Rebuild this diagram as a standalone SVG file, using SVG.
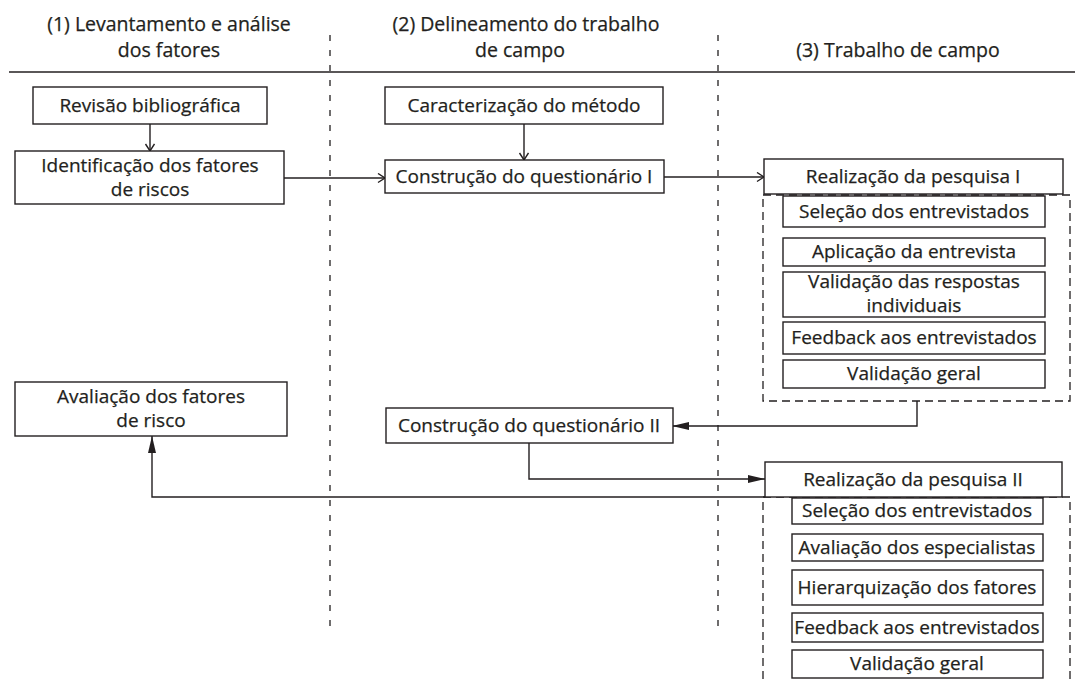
<svg xmlns="http://www.w3.org/2000/svg" width="1075" height="681" viewBox="0 0 1075 681">
<style>
text{font-family:"Open Sans","Liberation Sans",sans-serif;font-size:19px;fill:#231f20;stroke:#231f20;stroke-width:0.25;text-anchor:middle}
.hd{font-size:19.5px}
.box{fill:#fff;stroke:#231f20;stroke-width:1.4}
.col{stroke:#231f20;stroke-width:1.3;stroke-dasharray:6 9;fill:none}
.grp{stroke:#231f20;stroke-width:1.3;stroke-dasharray:8 5;fill:none}
.ln{stroke:#231f20;stroke-width:1.4;fill:none}
</style>
<defs>
<marker id="open" markerUnits="userSpaceOnUse" markerWidth="12" markerHeight="12" refX="8" refY="5" orient="auto">
<path d="M1,0.5 L8,5 L1,9.5" fill="none" stroke="#231f20" stroke-width="1.4"/>
</marker>
<marker id="fill" markerUnits="userSpaceOnUse" markerWidth="20" markerHeight="10" refX="17" refY="4" orient="auto">
<path d="M0,0 L17,4 L0,8 z" fill="#231f20"/>
</marker>
</defs>
<rect width="1075" height="681" fill="#fff"/>
<g id="header">
<text class="hd" x="169" y="31">(1) Levantamento e análise</text>
<text class="hd" x="169" y="57">dos fatores</text>
<text class="hd" x="526" y="31">(2) Delineamento do trabalho</text>
<text class="hd" x="520" y="57">de campo</text>
<text class="hd" x="898" y="57">(3) Trabalho de campo</text>
<line x1="9" y1="72" x2="1075" y2="72" class="ln"/>
<line x1="330" y1="35" x2="330" y2="634" class="col"/>
<line x1="718" y1="35" x2="718" y2="634" class="col"/>
</g>
<g id="groups">
<rect x="763" y="195" width="307" height="206" class="grp"/>
<rect x="763" y="497" width="307" height="200" class="grp"/>
</g>
<g id="connectors">
<line x1="150" y1="124" x2="150" y2="151" class="ln" marker-end="url(#open)"/>
<line x1="524" y1="124" x2="524" y2="160" class="ln" marker-end="url(#open)"/>
<line x1="284" y1="178" x2="385" y2="178" class="ln" marker-end="url(#open)"/>
<line x1="664" y1="177" x2="764" y2="177" class="ln" marker-end="url(#open)"/>
<polyline points="917,401 917,426 672,426" class="ln" marker-end="url(#fill)"/>
<polyline points="529,443 529,479 765,479" class="ln" marker-end="url(#fill)"/>
<polyline points="765,497 152,497 152,436" class="ln" marker-end="url(#fill)"/>
</g>
<g id="n-revisao"><rect x="33" y="87" width="234" height="37" class="box"/><text x="150" y="112">Revisão bibliográfica</text></g>
<g id="n-identificacao"><rect x="15" y="151" width="269" height="53" class="box"/><text x="150" y="172">Identificação dos fatores</text><text x="150" y="196">de riscos</text></g>
<g id="n-caracterizacao"><rect x="385" y="87" width="278" height="37" class="box"/><text x="524" y="112">Caracterização do método</text></g>
<g id="n-construcao1"><rect x="385" y="160" width="279" height="33" class="box"/><text x="524" y="183">Construção do questionário I</text></g>
<g id="n-realizacao1"><rect x="764" y="159" width="299" height="35" class="box"/><text x="913" y="183">Realização da pesquisa I</text></g>
<g id="n-selecao1"><rect x="783" y="196" width="262" height="31" class="box"/><text x="914" y="218">Seleção dos entrevistados</text></g>
<g id="n-aplicacao"><rect x="783" y="238" width="262" height="28" class="box"/><text x="914" y="258">Aplicação da entrevista</text></g>
<g id="n-validacao-resp"><rect x="783" y="272" width="262" height="45" class="box"/><text x="914" y="288">Validação das respostas</text><text x="914" y="312">individuais</text></g>
<g id="n-feedback1"><rect x="783" y="322" width="262" height="32" class="box"/><text x="914" y="344">Feedback aos entrevistados</text></g>
<g id="n-validacao1"><rect x="783" y="360" width="262" height="28" class="box"/><text x="914" y="380">Validação geral</text></g>
<g id="n-avaliacao-fatores"><rect x="15" y="382" width="272" height="54" class="box"/><text x="151" y="403">Avaliação dos fatores</text><text x="151" y="427">de risco</text></g>
<g id="n-construcao2"><rect x="386" y="408" width="287" height="35" class="box"/><text x="529" y="432">Construção do questionário II</text></g>
<g id="n-realizacao2"><rect x="765" y="462" width="297" height="35" class="box"/><text x="913" y="486">Realização da pesquisa II</text></g>
<g id="n-selecao2"><rect x="792" y="498" width="251" height="26" class="box"/><text x="917" y="517">Seleção dos entrevistados</text></g>
<g id="n-avaliacao-esp"><rect x="792" y="534" width="251" height="27" class="box"/><text x="917" y="554">Avaliação dos especialistas</text></g>
<g id="n-hierarquizacao"><rect x="792" y="570" width="251" height="35" class="box"/><text x="917" y="594">Hierarquização dos fatores</text></g>
<g id="n-feedback2"><rect x="792" y="613" width="251" height="29" class="box"/><text x="917" y="634">Feedback aos entrevistados</text></g>
<g id="n-validacao2"><rect x="792" y="650" width="251" height="28" class="box"/><text x="917" y="670">Validação geral</text></g>
</svg>
